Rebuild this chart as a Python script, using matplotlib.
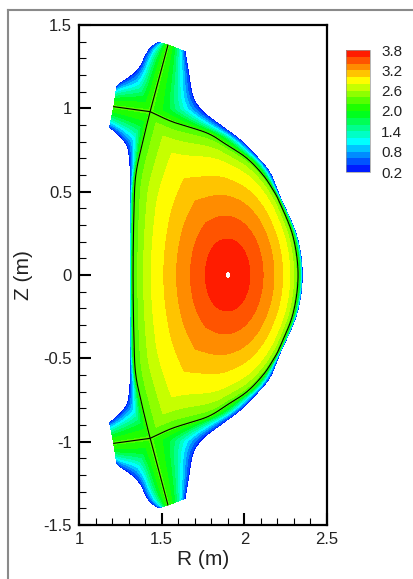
import numpy as np
import matplotlib
matplotlib.use('Agg')
import matplotlib.pyplot as plt
from matplotlib.colors import LinearSegmentedColormap
from matplotlib.ticker import MultipleLocator, FormatStrFormatter, FuncFormatter
from matplotlib.lines import Line2D

plt.rcParams['font.family'] = ['Liberation Sans', 'DejaVu Sans']

# values inside the separatrix, rho = 0 on the magnetic axis, 1 on the separatrix
axis_r = 1.90
core_kappa = 1.6
core_rho = [0.0, 0.03, 0.27, 0.44, 0.59, 0.72, 0.84, 0.91, 0.96, 1.0]
core_val = [3.9, 3.8, 3.6, 3.4, 3.2, 3.0, 2.8, 2.6, 2.4, 2.25]

# values outside, s = 0 on the separatrix, 1 on the edge of the grid
edge_s = [0.0, 0.35, 0.6, 0.8, 1.0]
edge_val = [2.25, 1.9, 1.4, 0.9, 0.3]

# separatrix, upper half (the grid is up-down symmetric), midplane -> X-point
sep_out_r = [2.325, 2.295, 2.216, 2.174, 2.113, 2.016, 1.895, 1.774, 1.569, 1.43]
sep_out_z = [0.0, 0.23, 0.43, 0.51, 0.60, 0.70, 0.78, 0.852, 0.918, 0.98]
sep_in_r = [1.327, 1.333, 1.345, 1.388, 1.43]
sep_in_z = [0.0, 0.41, 0.61, 0.81, 0.98]
leg_out = (1.538, 1.38)   # outer leg on the top plate
leg_in = (1.21, 1.01)     # inner leg on the inner plate

# edges of the grid, upper half
wall_out_r = [2.35, 2.318, 2.216, 2.155, 2.077, 1.974, 1.853, 1.75, 1.69, 1.66, 1.641]
wall_out_z = [0.0, 0.23, 0.468, 0.612, 0.708, 0.81, 0.90, 0.98, 1.07, 1.23, 1.34]
wall_in_r = [1.309, 1.31, 1.31, 1.298, 1.268, 1.218, 1.185]
wall_in_z = [0.0, 0.40, 0.62, 0.75, 0.81, 0.86, 0.885]
priv_r = [1.228, 1.248, 1.309, 1.369, 1.399, 1.43, 1.47, 1.49]
priv_z = [1.13, 1.15, 1.19, 1.25, 1.31, 1.36, 1.39, 1.394]

levels = np.arange(0.2, 3.81, 0.2)
cbar_ticks = [0.2, 0.8, 1.4, 2.0, 2.6, 3.2, 3.8]
cmap = LinearSegmentedColormap.from_list(
    'rainbow5', ['#0000ff', '#00ffff', '#00ff00', '#ffff00', '#ff0000'])


def spline(r, z, n=16):
    # catmull-rom through the picked points
    p = np.column_stack([r, z]).astype(float)
    p = np.vstack([2 * p[0] - p[1], p, 2 * p[-1] - p[-2]])
    t = np.linspace(0, 1, n, endpoint=False)[:, None]
    pts = []
    for i in range(1, len(p) - 2):
        p0, p1, p2, p3 = p[i - 1], p[i], p[i + 1], p[i + 2]
        pts.append(0.5 * (2 * p1 + (p2 - p0) * t
                          + (2 * p0 - 5 * p1 + 4 * p2 - p3) * t ** 2
                          + (3 * p1 - p0 - 3 * p2 + p3) * t ** 3))
    pts.append(p[-2][None])
    pts = np.vstack(pts)
    return pts[:, 0], pts[:, 1]


def mirror(r, z):
    r = np.asarray(r, float)
    z = np.asarray(z, float)
    return np.r_[r[::-1], r[1:]], np.r_[-z[::-1], z[1:]]


def resample(r, z, n=500):
    d = np.r_[0, np.cumsum(np.hypot(np.diff(r), np.diff(z)))]
    t = np.linspace(0, d[-1], n)
    return np.interp(t, d, r), np.interp(t, d, z)


fig = plt.figure(figsize=(4.13, 5.79), dpi=100)
ax = fig.add_axes([79 / 413, 54 / 579, 248 / 413, 500 / 579])

kw = dict(levels=levels, cmap=cmap, vmin=levels[0], vmax=levels[-1], zorder=1)

# separatrix curves
so_r, so_z = spline(*mirror(sep_out_r, sep_out_z))    # lower X -> upper X, outside
si_r, si_z = spline(*mirror(sep_in_r, sep_in_z))      # lower X -> upper X, inside

# core: star shaped mesh around the middle of the separatrix
c0 = 0.5 * (sep_out_r[0] + sep_in_r[0])
half_w = 0.5 * (sep_out_r[0] - sep_in_r[0])
ring_r = np.r_[so_r, si_r[::-1][1:-1]]
ring_z = np.r_[so_z, si_z[::-1][1:-1]]
ang = np.mod(np.arctan2(ring_z, ring_r - c0), 2 * np.pi)
rad = np.hypot(ring_r - c0, ring_z)
order = np.argsort(ang)
ang, rad = ang[order], rad[order]
ang = np.r_[ang, ang[0] + 2 * np.pi]
rad = np.r_[rad, rad[0]]
b = core_kappa * half_w
r_ell = half_w * b / np.sqrt((b * np.cos(ang)) ** 2 + (half_w * np.sin(ang)) ** 2)
rho = np.linspace(0, 1, 240)[:, None]
w = rho ** 2.5
rr = (1 - w) * r_ell + w * rad
cen = c0 + (axis_r - c0) * (1 - rho ** 3)
R = cen + rho * rr * np.cos(ang)
Z = rho * rr * np.sin(ang)
V = np.interp(rho, core_rho, core_val) * np.ones_like(R)
cs = ax.contourf(R, Z, V, **kw)


def fill_edge(inner, outer):
    ri, zi = resample(*inner)
    ro, zo = resample(*outer)
    s = np.linspace(0, 1, 90)[:, None]
    RR = (1 - s) * ri + s * ro
    ZZ = (1 - s) * zi + s * zo
    VV = np.interp(s, edge_s, edge_val) * np.ones_like(RR)
    ax.contourf(RR, ZZ, VV, **kw)


# outer scrape-off layer
wo_r, wo_z = spline(*mirror(wall_out_r, wall_out_z))
fill_edge((np.r_[leg_out[0], so_r, leg_out[0]], np.r_[-leg_out[1], so_z, leg_out[1]]),
          (wo_r, wo_z))

# inner scrape-off layer
wi_r, wi_z = spline(*mirror(wall_in_r, wall_in_z))
fill_edge((np.r_[leg_in[0], si_r[::-1], leg_in[0]], np.r_[leg_in[1], si_z[::-1], -leg_in[1]]),
          (wi_r[::-1], wi_z[::-1]))

# private flux regions, top and bottom
pr_r, pr_z = spline(priv_r, priv_z)
xr, xz = sep_out_r[-1], sep_out_z[-1]
for sgn in (1, -1):
    fill_edge((np.array([leg_in[0], xr, leg_out[0]]),
               sgn * np.array([leg_in[1], xz, leg_out[1]])),
              (pr_r, sgn * pr_z))

# separatrix lines
ax.plot(np.r_[leg_out[0], si_r, leg_out[0]], np.r_[-leg_out[1], si_z, leg_out[1]],
        color='k', lw=0.8, zorder=3)
ax.plot(np.r_[leg_in[0], so_r, leg_in[0]], np.r_[-leg_in[1], so_z, leg_in[1]],
        color='k', lw=0.8, zorder=3)

ax.set_xlim(1, 2.5)
ax.set_ylim(-1.5, 1.5)
ax.xaxis.set_major_locator(MultipleLocator(0.5))
ax.yaxis.set_major_locator(MultipleLocator(0.5))
ax.xaxis.set_minor_locator(MultipleLocator(0.1))
ax.yaxis.set_minor_locator(MultipleLocator(0.1))
fmt = FuncFormatter(lambda v, p: '%g' % round(v, 2))
ax.xaxis.set_major_formatter(fmt)
ax.yaxis.set_major_formatter(fmt)
ax.tick_params(which='major', direction='in', length=8.5, width=1.5,
               labelsize=12, pad=5, labelcolor='#222222')
ax.tick_params(which='minor', direction='in', length=5, width=0.8)
for sp in ax.spines.values():
    sp.set_linewidth(1.6)
ax.set_xlabel('R (m)', fontsize=15, color='#222222')
ax.set_ylabel('Z (m)', fontsize=15, color='#222222')
ax.xaxis.set_label_coords(0.5, -0.05)
ax.yaxis.set_label_coords(-0.185, 0.5)

cax = fig.add_axes([346 / 413, 1 - 172 / 579, 24 / 413, 122 / 579])
cb = fig.colorbar(cs, cax=cax, ticks=cbar_ticks)
cb.ax.yaxis.set_major_formatter(FormatStrFormatter('%.1f'))
cb.ax.tick_params(length=0, labelsize=11, pad=8, labelcolor='#222222')
cb.outline.set_linewidth(0.5)
cb.outline.set_edgecolor('#999999')

# frame of the original screenshot
fig.add_artist(Line2D([8 / 413, 8 / 413], [0, 1 - 10 / 579], color='#8a8a8a', lw=1.5))
fig.add_artist(Line2D([8 / 413, 1], [1 - 10 / 579, 1 - 10 / 579], color='#8a8a8a', lw=1.5))

fig.savefig('out.png', dpi=100, facecolor='white')
